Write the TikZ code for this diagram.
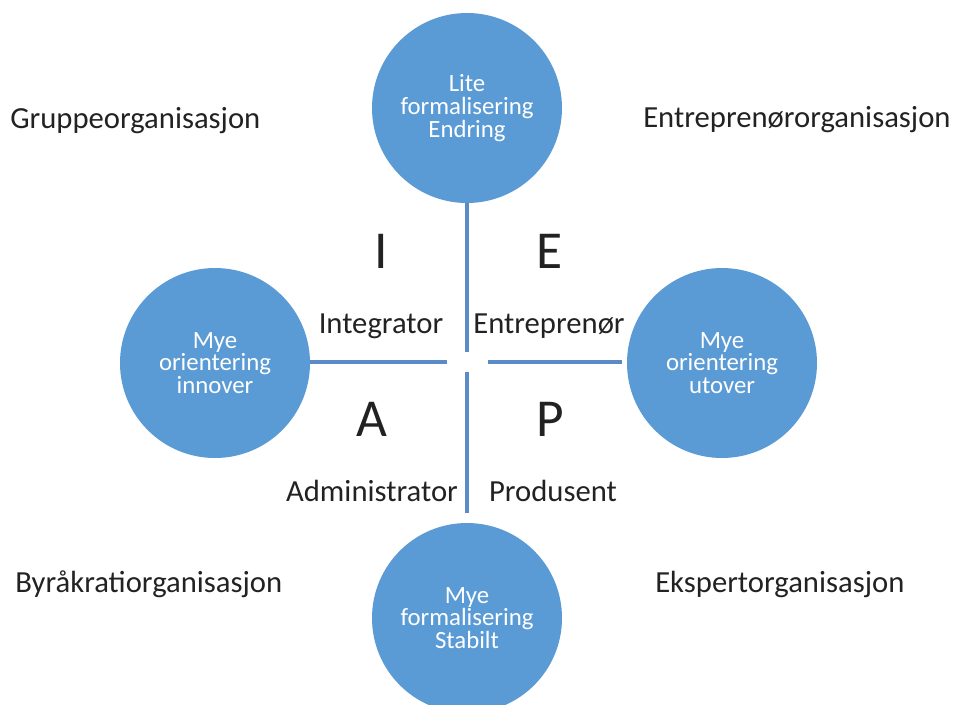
\documentclass[tikz,border=0pt]{standalone}
\usepackage{fontspec}
\setmainfont{Carlito}
\definecolor{bubble}{HTML}{5B9BD5}
\definecolor{axis}{HTML}{5A8BC6}
\definecolor{ink}{HTML}{222222}
\begin{document}
\begin{tikzpicture}[x=0.75pt,y=-0.75pt,
  bubble/.style={circle,fill=bubble,inner sep=0pt,minimum size=142.5pt,
    text=white,align=center,font=\fontsize{18.6}{17}\selectfont},
  axisline/.style={draw=axis,line width=2.8pt},
  label/.style={anchor=base,text=ink,font=\fontsize{23}{27}\selectfont,inner sep=0pt},
  corner/.style={label,anchor=base west},
  letter/.style={anchor=base,text=ink,font=\fontsize{40}{48}\selectfont,inner sep=0pt}]
\useasboundingbox (0,0) rectangle (956,704);

% the four circles
\node[bubble] (top) at (467,108) {Lite\\formalisering\\Endring};
\node[bubble] (left) at (215,363) {Mye\\orientering\\innover};
\node[bubble] (right) at (722,363) {Mye\\orientering\\utover};
\node[bubble] (bot) at (467,618) {Mye\\formalisering\\Stabilt};

% free ends of the axes around the centre gap
\coordinate (ct) at (467,352);
\coordinate (cb) at (467,372);
\coordinate (cl) at (447,362);
\coordinate (cr) at (488,362);

\draw[axisline] (top.south) -- (ct);
\draw[axisline,shorten >=7.5pt] (cb) -- (bot.north);
\draw[axisline] (left.east |- cl) -- (cl);
\draw[axisline,shorten >=3.5pt] (cr) -- (right.west |- cr);

% quadrant letters
\node[letter] (lI) at (381,268) {I};
\node[letter] (lE) at (550,268) {E};
\node[letter] (lA) at (372,436) {A};
\node[letter] (lP) at (550,436) {P};

% role labels
\node[label] (integ) at (381,333) {Integrator};
\node[label] (entre) at (549,333) {Entreprenør};
\node[label] (admin) at (372,501) {Administrator};
\node[label] (prod) at (553,501) {Produsent};

% organisation types
\node[corner] (grp) at (10,128) {Gruppeorganisasjon};
\node[corner] (ent) at (643,127) {Entreprenørorganisasjon};
\node[corner] (byr) at (15,592) {Byråkratiorganisasjon};
\node[corner] (eks) at (655,592) {Ekspertorganisasjon};
\end{tikzpicture}
\end{document}
